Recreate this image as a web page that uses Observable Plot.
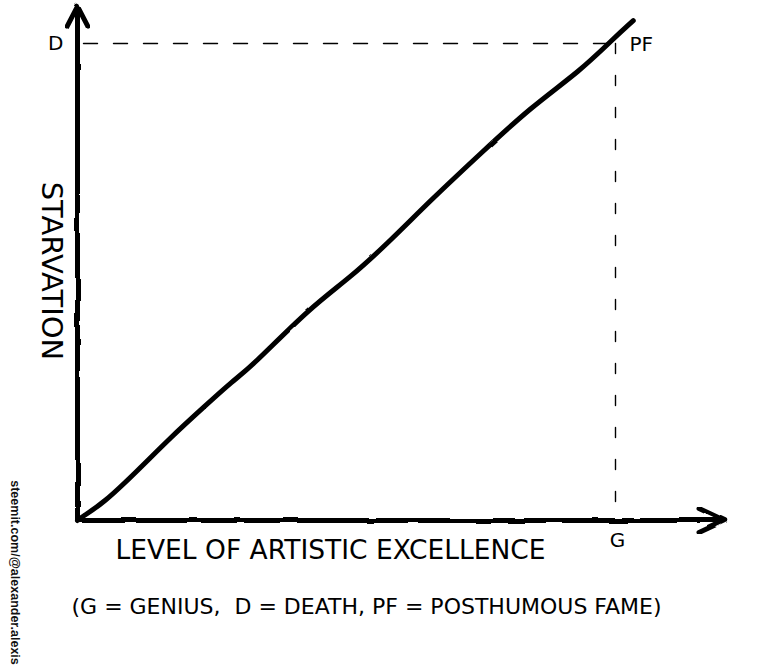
<!DOCTYPE html>
<html>
<head>
<meta charset="utf-8">
<script src="https://cdn.jsdelivr.net/npm/d3@7"></script>
<script src="https://cdn.jsdelivr.net/npm/@observablehq/plot@0.6"></script>
<style>
  html, body { margin: 0; padding: 0; background: #fff; }
  #chart svg { display: block; }
</style>
</head>
<body>
<div id="chart"></div>
<script>
// Level of artistic excellence (x) vs starvation (y)
const excellence = [0, 0.006, 0.048, 0.112, 0.173, 0.234, 0.290, 0.322, 0.433, 0.507, 0.582, 0.656, 0.749, 0.842, 0.935, 0.996, 1.033];
const starvation = [0, 0.006, 0.036, 0.105, 0.174, 0.237, 0.294, 0.321, 0.447, 0.509, 0.587, 0.671, 0.769, 0.866, 0.943, 1.010, 1.048];

// Reference levels
const geniusLevel = 1;   // G
const deathLevel = 1;    // D
const xAxisEnd = 1.203;
const yAxisEnd = 1.08;

const xTitle = "LEVEL OF ARTISTIC EXCELLENCE";
const yTitle = "STARVATION";
const caption = "(G = GENIUS,  D = DEATH, PF = POSTHUMOUS FAME)";
const credit = "steemit.com/@alexander.alexis";
const labelD = "D", labelPF = "PF", labelG = "G";

const curve = excellence.map((x, i) => ({x, y: starvation[i]}));
const hand = "'DejaVu Sans', 'Liberation Sans', sans-serif";

const plot = Plot.plot({
  width: 769,
  height: 669,
  marginLeft: 77,
  marginRight: 154,
  marginTop: 43,
  marginBottom: 149,
  x: {domain: [0, 1], axis: null},
  y: {domain: [0, 1], axis: null},
  style: {background: "#fff", overflow: "visible", fontFamily: hand, color: "#000"},
  marks: [
    // dashed guides
    Plot.line([{x: 0, y: deathLevel}, {x: geniusLevel, y: deathLevel}], {x: "x", y: "y", stroke: "#000", strokeWidth: 1.4, strokeDasharray: "14,16", strokeDashoffset: -6}),
    Plot.line([{x: geniusLevel, y: deathLevel}, {x: geniusLevel, y: 0.02}], {x: "x", y: "y", stroke: "#000", strokeWidth: 1.4, strokeDasharray: "10,22"}),
    // axes with arrow heads
    Plot.arrow([{x1: 0, y1: 0, x2: xAxisEnd, y2: 0}], {x1: "x1", y1: "y1", x2: "x2", y2: "y2", stroke: "#000", strokeWidth: 5, headLength: 8.5, headAngle: 50, strokeLinecap: "round", strokeLinejoin: "round", className: "hand"}),
    Plot.arrow([{x1: 0, y1: 0, x2: 0, y2: yAxisEnd}], {x1: "x1", y1: "y1", x2: "x2", y2: "y2", stroke: "#000", strokeWidth: 5, headLength: 7, headAngle: 55, strokeLinecap: "round", strokeLinejoin: "round", className: "hand"}),
    // the curve
    Plot.line(curve, {x: "x", y: "y", stroke: "#000", strokeWidth: 5, strokeLinecap: "round", strokeLinejoin: "round", curve: "basis", className: "hand2"}),
    // point labels
    Plot.text([labelD], {x: () => 0, y: () => deathLevel, textAnchor: "end", dx: -14, fontSize: 20}),
    Plot.text([labelPF], {x: () => geniusLevel, y: () => deathLevel, textAnchor: "start", dx: 14, dy: 1, fontSize: 20}),
    Plot.text([labelG], {x: () => geniusLevel, y: () => 0, dx: 2, dy: 20, fontSize: 20}),
    // titles
    Plot.text([yTitle], {frameAnchor: "left", textAnchor: "middle", rotate: 90, dx: -26, dy: -11, fontSize: 29}),
    Plot.text([xTitle], {frameAnchor: "bottom", textAnchor: "middle", dx: -16, dy: 38, fontSize: 26.5}),
    Plot.text([caption], {frameAnchor: "bottom", textAnchor: "middle", dx: 20, dy: 93, fontSize: 22}),
    Plot.text([credit], {frameAnchor: "bottom-left", textAnchor: "middle", rotate: 90, dx: -67, dy: 52, fontSize: 12.5, fontWeight: "bold", fontFamily: "'Liberation Sans', Arial, sans-serif", fill: "#111"})
  ]
});

// hand-drawn wobble filter
const svg = d3.select(plot);
const defs = svg.insert("defs", ":first-child");
const f = defs.append("filter").attr("id", "wobble").attr("x", "-5%").attr("y", "-5%").attr("width", "110%").attr("height", "110%");
f.append("feTurbulence").attr("type", "fractalNoise").attr("baseFrequency", 0.03).attr("numOctaves", 2).attr("seed", 3).attr("result", "n");
f.append("feDisplacementMap").attr("in", "SourceGraphic").attr("in2", "n").attr("scale", 3).attr("xChannelSelector", "R").attr("yChannelSelector", "G");
const f2 = defs.append("filter").attr("id", "wobble2").attr("x", "-5%").attr("y", "-5%").attr("width", "110%").attr("height", "110%");
f2.append("feTurbulence").attr("type", "fractalNoise").attr("baseFrequency", 0.08).attr("numOctaves", 1).attr("seed", 5).attr("result", "n");
f2.append("feDisplacementMap").attr("in", "SourceGraphic").attr("in2", "n").attr("scale", 2).attr("xChannelSelector", "R").attr("yChannelSelector", "G");
svg.selectAll(".hand").attr("filter", "url(#wobble)");
svg.selectAll(".hand2").attr("filter", "url(#wobble2)");

document.getElementById("chart").appendChild(plot);
</script>
</body>
</html>
